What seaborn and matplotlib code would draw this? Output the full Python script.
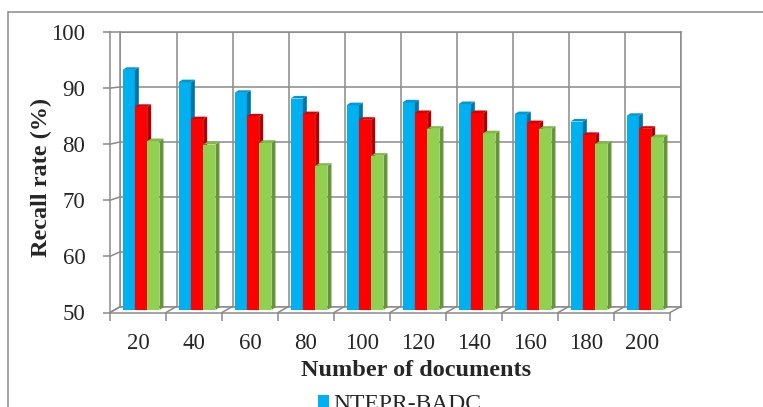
import numpy as np
import pandas as pd
import matplotlib
matplotlib.use("Agg")
import matplotlib.pyplot as plt
import seaborn as sns
from matplotlib.patches import Polygon, Rectangle
from matplotlib.lines import Line2D
from matplotlib.transforms import IdentityTransform, ScaledTranslation

# ---- data -------------------------------------------------------------
documents = ["20", "40", "60", "80", "100", "120", "140", "160", "180", "200"]
methods = ["NTEPR-BADC", "Comparison method 1", "Comparison method 2"]
recall_ntepr_badc = [92.8, 90.6, 88.7, 87.7, 86.5, 87.0, 86.7, 84.9, 83.6, 84.6]
recall_method_1 = [86.2, 84.0, 84.5, 84.9, 83.9, 85.1, 85.1, 83.3, 81.2, 82.3]
recall_method_2 = [80.1, 79.5, 79.8, 75.7, 77.5, 82.3, 81.5, 82.3, 79.6, 80.8]
y_ticks = [50, 60, 70, 80, 90, 100]

df = pd.DataFrame({
    "documents": documents * 3,
    "method": [m for m in methods for _ in documents],
    "recall": recall_ntepr_badc + recall_method_1 + recall_method_2,
})

# ---- style ------------------------------------------------------------
sns.set_style("white")
plt.rcParams["font.family"] = ["Liberation Serif", "DejaVu Serif"]

front_colors = ["#00B0F0", "#FF0000", "#92D050"]
side_colors = ["#0075A6", "#B20000", "#66963A"]
top_colors = ["#0098D2", "#D60000", "#7FBA45"]
grid_gray = "#8A8A8A"

W, H, DPI = 763, 407, 100
fig = plt.figure(figsize=(W / DPI, H / DPI), dpi=DPI, facecolor="white")


def px_rect(left, top, right, bottom):
    return [left / W, 1 - bottom / H, (right - left) / W, (bottom - top) / H]


# back wall (drawn first, sits behind the bars)
ax_back = fig.add_axes(px_rect(120.5, 32, 681, 306.5))
# front plane: value axis, category axis and the bars
ax = fig.add_axes(px_rect(110, 32, 670, 312.5))
ax.set_facecolor("none")

n_cat = len(documents)
bounds = np.arange(-0.5, n_cat, 1.0)

ax_back.set_xlim(-0.5, n_cat - 0.5)
ax_back.set_ylim(50, 100)
ax_back.set_yticks(y_ticks)
ax_back.set_xticks(bounds)
ax_back.tick_params(length=0, labelleft=False, labelbottom=False)
ax_back.grid(True, color=grid_gray, lw=1.1)
for side in ["left", "right", "top", "bottom"]:
    ax_back.spines[side].set_color(grid_gray)
    ax_back.spines[side].set_linewidth(1.1)

# ---- bars -------------------------------------------------------------
sns.barplot(data=df, x="documents", y="recall", hue="method",
            hue_order=methods, order=documents, palette=front_colors,
            saturation=1, width=0.66, gap=0, legend=False, ax=ax,
            linewidth=0, edgecolor="none")

ax.set_xlim(-0.5, n_cat - 0.5)
ax.set_ylim(50, 100)

# bars stand a little behind the front plane
bar_shift = ScaledTranslation(3 / DPI, 2.5 / DPI, fig.dpi_scale_trans)
depth_x, depth_y = 4.0, 2.6
bar_trans = ax.transData + bar_shift

values = [recall_ntepr_badc, recall_method_1, recall_method_2]
patches = list(ax.patches)
for k, patch in enumerate(patches):
    level = k // n_cat
    cat = k % n_cat
    value = values[level][cat]
    patch.set_y(50)
    patch.set_height(value - 50)
    patch.set_transform(bar_trans)
    patch.set_zorder(2 + level)
    patch.set_clip_on(False)

    x0 = patch.get_x()
    x1 = x0 + patch.get_width()
    (X0, Y0), (X1, Y1) = bar_trans.transform([[x0, 50], [x1, value]])
    side = Polygon([[X1, Y0], [X1 + depth_x, Y0 + depth_y],
                    [X1 + depth_x, Y1 + depth_y], [X1, Y1]],
                   closed=True, transform=IdentityTransform(),
                   facecolor=side_colors[level], edgecolor="none",
                   zorder=2 + level + 0.1, clip_on=False)
    top = Polygon([[X0, Y1], [X1, Y1], [X1 + depth_x, Y1 + depth_y],
                   [X0 + depth_x, Y1 + depth_y]],
                  closed=True, transform=IdentityTransform(),
                  facecolor=top_colors[level], edgecolor="none",
                  zorder=2 + level + 0.1, clip_on=False)
    ax.add_patch(side)
    ax.add_patch(top)

# ---- axes of the front plane -----------------------------------------
for s in ["top", "right"]:
    ax.spines[s].set_visible(False)
for s in ["left", "bottom"]:
    ax.spines[s].set_color(grid_gray)
    ax.spines[s].set_linewidth(1.1)

ax.set_yticks(y_ticks)
ax.set_yticklabels([str(v) for v in y_ticks])
ax.tick_params(axis="y", direction="out", length=5.3, width=1.1,
               color=grid_gray, pad=12.5, labelsize=16.5, left=True)

ax.set_xticks(bounds)
ax.set_xticklabels([""] * len(bounds))
ax.set_xticks(np.arange(n_cat), minor=True)
ax.set_xticklabels(documents, minor=True)
ax.tick_params(axis="x", which="major", direction="out", length=6,
               width=1.1, color=grid_gray, bottom=True)
ax.tick_params(axis="x", which="minor", length=0, pad=15, labelsize=16.5)

# side-wall and floor edges joining the front plane to the back wall
for v in y_ticks:
    (fx, fy) = ax.transData.transform((-0.5, v))
    (bx, by) = ax_back.transData.transform((-0.5, v))
    ax_back.add_line(Line2D([fx, bx], [fy, by], transform=IdentityTransform(),
                            color=grid_gray, lw=1.1, clip_on=False))
for b in bounds:
    (fx, fy) = ax.transData.transform((b, 50))
    (bx, by) = ax_back.transData.transform((b, 50))
    ax_back.add_line(Line2D([fx, bx], [fy, by], transform=IdentityTransform(),
                            color=grid_gray, lw=1.1, clip_on=False))

# ---- titles ----------------------------------------------------------
ax.set_xlabel("Number of documents", fontsize=17.5, fontweight="bold")
ax.xaxis.set_label_coords((416 - 110) / 560, (312.5 - 370) / 280.5)
ax.xaxis.label.set_va("center")
ax.set_ylabel("Recall rate (%)", fontsize=17.5, fontweight="bold")
ax.yaxis.set_label_coords((41 - 110) / 560, (312.5 - 177) / 280.5)
ax.yaxis.label.set_va("center")

# ---- legend ----------------------------------------------------------
handles = [Rectangle((0, 0), 1, 1, facecolor=c, edgecolor="none")
           for c in front_colors]
fig.legend(handles, methods, loc="upper left",
           bbox_to_anchor=(318 / W, 1 - 394 / H), frameon=False,
           borderpad=0, borderaxespad=0, handlelength=0.45,
           handleheight=0.45, handletextpad=0.2, fontsize=17,
           labelspacing=0.3)

# chart-area border (left and top edges)
fig.add_artist(Line2D([8 / W, 8 / W], [0, 1 - 12 / H], transform=fig.transFigure,
                      color=grid_gray, lw=1.1))
fig.add_artist(Line2D([8 / W, 1], [1 - 12 / H, 1 - 12 / H],
                      transform=fig.transFigure, color=grid_gray, lw=1.1))

fig.savefig("out.png", dpi=DPI, facecolor="white")
